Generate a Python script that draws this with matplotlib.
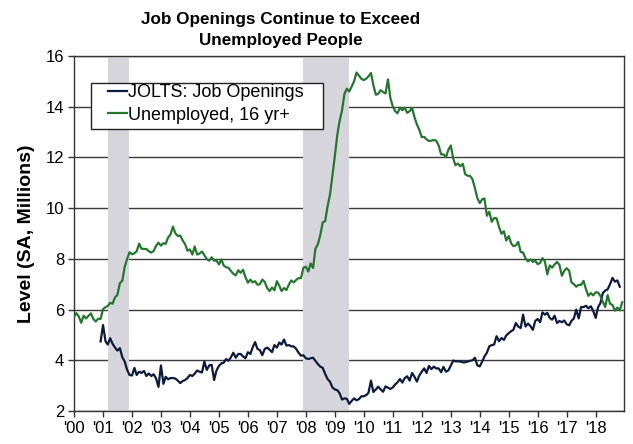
import numpy as np
import pandas as pd
import matplotlib
matplotlib.use("Agg")
import matplotlib.pyplot as plt
from matplotlib.patches import Rectangle

# ---------------- data ----------------
unemp_start = "2000-01-01"
unemployed = [  # millions, SA, monthly Jan 2000 - Dec 2018
    5.71, 5.86, 5.73, 5.48, 5.76, 5.65, 5.75, 5.85, 5.63, 5.53, 5.64, 5.63,
    6.02, 6.09, 6.14, 6.27, 6.23, 6.48, 6.58, 7.04, 7.14, 7.69, 8.00, 8.26,
    8.18, 8.22, 8.30, 8.60, 8.40, 8.39, 8.39, 8.30, 8.25, 8.31, 8.52, 8.64,
    8.52, 8.62, 8.59, 8.84, 8.96, 9.27, 9.01, 8.90, 8.92, 8.73, 8.58, 8.32,
    8.37, 8.17, 8.49, 8.17, 8.21, 8.29, 8.14, 7.99, 7.93, 8.06, 7.93, 7.93,
    7.78, 7.98, 7.74, 7.67, 7.65, 7.52, 7.41, 7.35, 7.55, 7.45, 7.57, 7.28,
    7.06, 7.18, 7.07, 7.12, 6.98, 7.00, 7.18, 7.09, 6.85, 6.73, 6.87, 6.76,
    7.12, 6.93, 6.73, 6.85, 6.77, 6.98, 7.15, 7.07, 7.17, 7.24, 7.24, 7.65,
    7.69, 7.50, 7.82, 7.64, 8.40, 8.58, 8.94, 9.44, 9.49, 10.07, 10.54, 11.29,
    12.06, 12.90, 13.43, 13.85, 14.50, 14.71, 14.60, 14.81, 15.01, 15.35, 15.22, 15.10,
    15.05, 15.11, 15.20, 15.33, 14.85, 14.47, 14.51, 14.65, 14.58, 14.52, 15.08, 14.35,
    14.01, 13.82, 13.74, 13.96, 13.86, 13.96, 13.76, 13.82, 13.95, 13.59, 13.30, 13.09,
    12.80, 12.81, 12.71, 12.65, 12.66, 12.69, 12.66, 12.47, 12.12, 12.12, 12.01, 12.30,
    12.47, 11.95, 11.69, 11.76, 11.65, 11.75, 11.34, 11.28, 11.27, 11.14, 10.79, 10.40,
    10.20, 10.35, 10.38, 9.70, 9.86, 9.46, 9.61, 9.60, 9.26, 8.99, 9.09, 8.72,
    8.90, 8.61, 8.50, 8.53, 8.67, 8.27, 8.25, 8.02, 7.90, 7.98, 7.88, 7.93,
    7.79, 7.84, 8.03, 7.90, 7.39, 7.74, 7.65, 7.78, 7.88, 7.76, 7.33, 7.53,
    7.63, 7.53, 7.08, 7.00, 6.90, 6.98, 6.97, 7.13, 6.80, 6.54, 6.65, 6.56,
    6.68, 6.67, 6.54, 6.31, 6.10, 6.57, 6.23, 6.18, 5.96, 6.08, 5.97, 6.29,
]

jolts_start = "2000-12-01"
jolts = [  # millions, SA, monthly Dec 2000 - Nov 2018
    4.74,
    5.39, 4.75, 4.62, 4.87, 4.65, 4.50, 4.38, 4.48, 4.12, 3.95, 3.62, 3.42,
    3.40, 3.70, 3.42, 3.55, 3.50, 3.58, 3.38, 3.48, 3.38, 3.45, 3.28, 2.95,
    3.80, 3.07, 3.35, 3.25, 3.30, 3.30, 3.28, 3.20, 3.10, 3.18, 3.22, 3.30,
    3.42, 3.38, 3.47, 3.60, 3.55, 3.52, 3.95, 3.62, 3.80, 3.82, 3.22, 3.60,
    3.78, 3.88, 3.90, 4.05, 3.98, 4.12, 4.30, 4.10, 4.25, 4.25, 4.15, 4.08,
    4.32, 4.25, 4.50, 4.72, 4.45, 4.40, 4.20, 4.45, 4.50, 4.42, 4.32, 4.60,
    4.50, 4.70, 4.62, 4.82, 4.58, 4.60, 4.55, 4.55, 4.45, 4.30, 4.18, 4.20,
    4.08, 4.05, 4.08, 4.10, 3.98, 3.85, 3.75, 3.70, 3.46, 3.26, 3.15, 2.93,
    2.85, 2.82, 2.70, 2.45, 2.50, 2.48, 2.28, 2.40, 2.50, 2.42, 2.47, 2.58,
    2.58, 2.63, 2.72, 3.20, 2.75, 2.85, 2.96, 2.85, 2.76, 2.97, 2.92, 2.87,
    2.93, 3.05, 3.13, 3.26, 3.12, 3.30, 3.37, 3.20, 3.50, 3.35, 3.16, 3.40,
    3.55, 3.68, 3.50, 3.78, 3.65, 3.75, 3.68, 3.68, 3.53, 3.74, 3.55, 3.60,
    3.79, 3.99, 3.96, 3.96, 3.95, 3.92, 3.92, 3.95, 3.98, 4.00, 4.10, 3.80,
    3.76, 3.95, 4.15, 4.30, 4.55, 4.60, 4.62, 4.95, 4.75, 4.88, 4.80, 4.98,
    5.07, 5.15, 5.20, 5.47, 5.33, 5.27, 5.80, 5.33, 5.45, 5.35, 5.20, 5.55,
    5.63, 5.50, 5.89, 5.80, 5.87, 5.67, 5.60, 5.76, 5.47, 5.55, 5.50, 5.57,
    5.42, 5.38, 5.55, 5.65, 6.00, 5.65, 6.10, 6.10, 6.15, 6.05, 6.13, 5.95,
    5.67, 6.10, 6.25, 6.65, 6.75, 6.80, 7.00, 7.25, 7.10, 7.15, 6.90,
]

recession_starts = ["2001-03-01", "2007-12-01"]
recession_ends = ["2001-11-30", "2009-06-30"]

years = list(range(2000, 2019))
year_labels = ["'%02d" % (y % 100) for y in years]
y_ticks = [2, 4, 6, 8, 10, 12, 14, 16]

title_lines = ["Job Openings Continue to Exceed", "Unemployed People"]
y_label = "Level (SA, Millions)"
label_jolts = "JOLTS: Job Openings"
label_unemp = "Unemployed, 16 yr+"

# ---------------- plot ----------------
plt.rcParams['font.family'] = ['Liberation Sans', 'DejaVu Sans']

navy = "#0c1a3c"
green = "#25762f"
shade = "#d7d5dc"

W, H = 633, 444
fig = plt.figure(figsize=(W / 100, H / 100), dpi=100)
ax = fig.add_axes([74 / W, 1 - 411 / H, 550 / W, 355 / H])

d_unemp = pd.date_range(unemp_start, periods=len(unemployed), freq="MS")
d_jolts = pd.date_range(jolts_start, periods=len(jolts), freq="MS")

for s, e in zip(recession_starts, recession_ends):
    ax.axvspan(pd.Timestamp(s), pd.Timestamp(e), color=shade, lw=0, zorder=1)

for yv in y_ticks:
    ax.axhline(yv, color="#3a3a3a", lw=1.0, zorder=0.5)

l1, = ax.plot(d_jolts, jolts, color=navy, lw=1.6, label=label_jolts, zorder=3)
l2, = ax.plot(d_unemp, unemployed, color=green, lw=1.6, label=label_unemp, zorder=3)

ax.set_ylim(2, 16)
ax.set_yticks(y_ticks)
ax.set_yticklabels([str(v) for v in y_ticks], fontsize=12)
ax.set_xlim(pd.Timestamp("2000-01-01"), pd.Timestamp("2018-12-24"))
ax.set_xticks([pd.Timestamp("%d-01-01" % y) for y in years])
ax.set_xticklabels(year_labels, fontsize=12)
ax.tick_params(axis="both", direction="out", length=4, width=1, color="#333333", pad=3)

for side in ["left", "bottom", "top", "right"]:
    ax.spines[side].set_color("#333333")
    ax.spines[side].set_linewidth(1.0)
ax.spines["top"].set_zorder(4)

ax.set_ylabel(y_label, fontsize=14, fontweight="bold", labelpad=8)

# legend box (frame drawn separately for Excel-like padding)
fig.patches.append(Rectangle((91 / W, 1 - 129 / H), 232 / W, 46 / H,
                             transform=fig.transFigure, facecolor="white",
                             edgecolor="#222222", lw=1.0, zorder=4))
leg = fig.legend(handles=[l1, l2], loc="upper left",
                 bbox_to_anchor=(108 / W, 1 - 84 / H),
                 fontsize=13, frameon=False, handlelength=1.05,
                 handletextpad=0.05, borderpad=0, labelspacing=0.32,
                 borderaxespad=0)
leg.set_zorder(5)

fig.text(281 / W, 1 - 24 / H, title_lines[0], ha="center", va="baseline",
         fontsize=12.3, fontweight="bold")
fig.text(281 / W, 1 - 44.6 / H, title_lines[1], ha="center", va="baseline",
         fontsize=12.3, fontweight="bold")

fig.savefig("out.png", dpi=100)
